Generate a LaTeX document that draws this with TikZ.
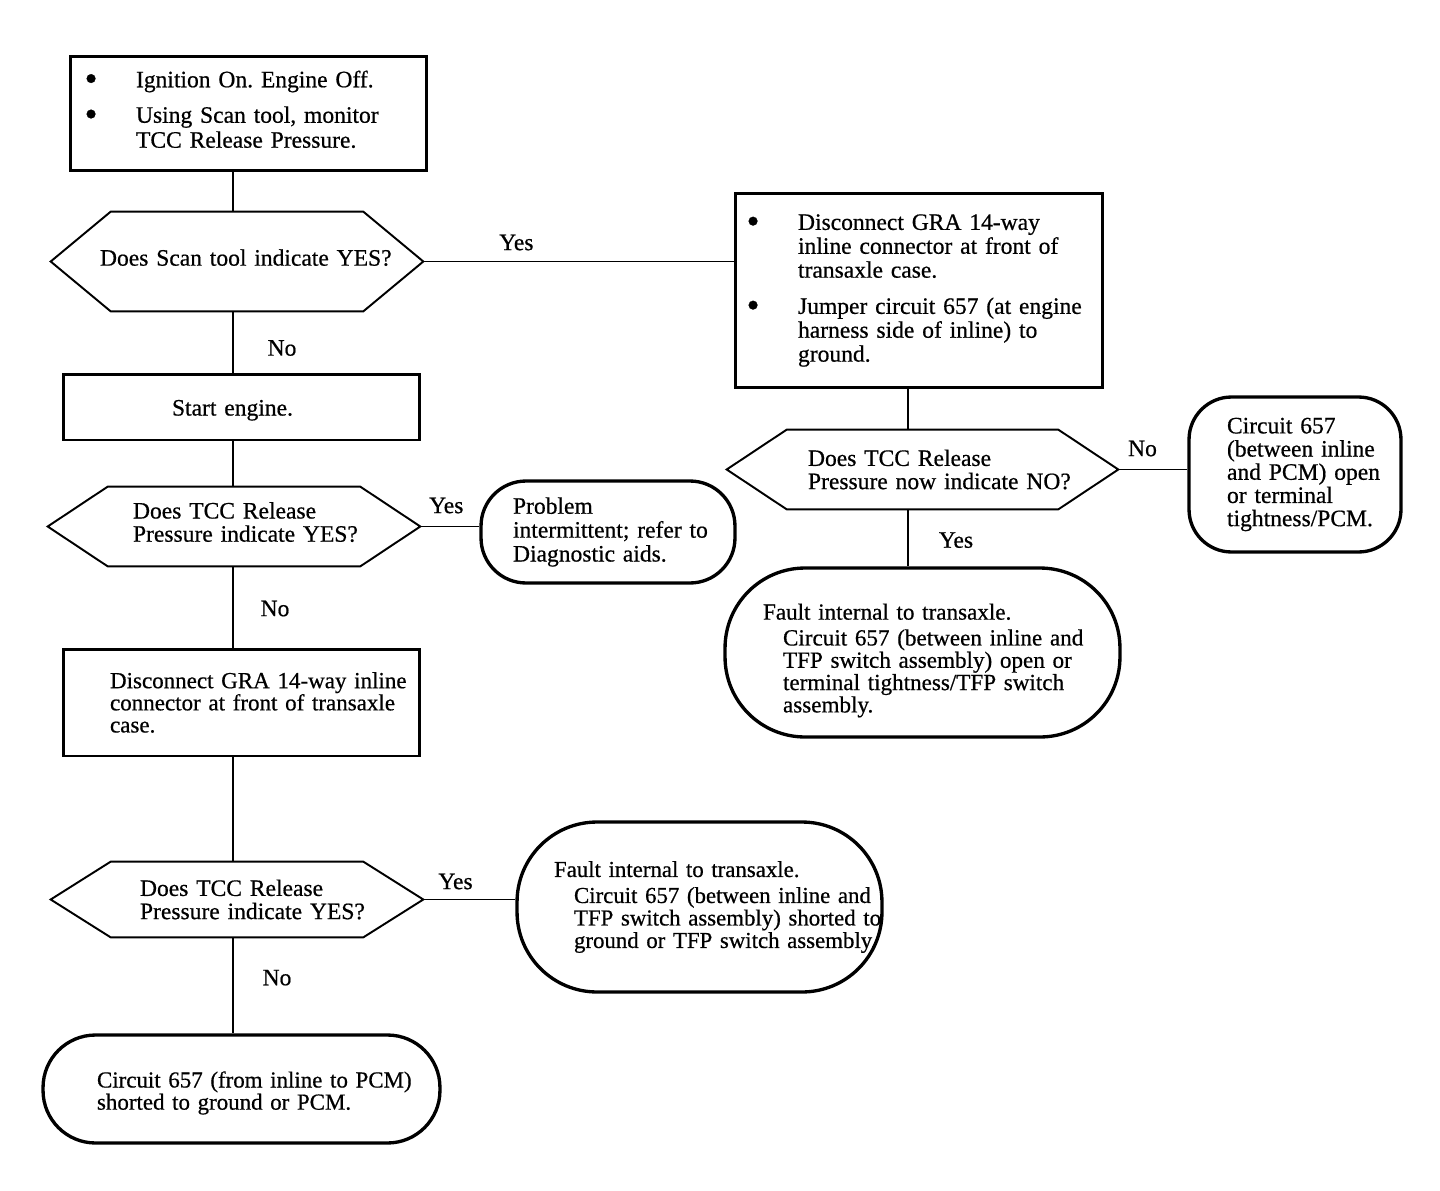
\documentclass[tikz,border=0pt]{standalone}
\usepackage{fontspec}
\setmainfont{Liberation Serif}[FakeBold=0.6]
\newcommand\boxmargin[1]{\frenchspacing\parindent=0pt\leftskip=#1\rightskip=-2cm plus 1fil\relax}
\newcommand\dotitem{\leavevmode\llap{\raisebox{-2pt}{\fontsize{21}{21}\selectfont\textbullet}\hspace{0.77cm}}}
\newcommand\subline{\leavevmode\hspace*{0.4cm}}
\newcommand\toppad[1]{\rule{0pt}{#1}}
\newcommand\botpad[1]{\rule[-#1]{0pt}{#1}}
\tikzset{
  every node/.style={font=\fontsize{13.4}{13.2}\selectfont},
  base/.style={inner sep=0pt, align=left},
  action/.style={base, draw, line width=1.7pt},
  ask/.style={base},
  hexline/.style={line width=1.1pt, line join=miter},
  stop/.style={base, draw, line width=1.9pt},
  link/.style={line width=1pt},
  lab/.style={inner sep=0pt},
}
\begin{document}
\begin{tikzpicture}[x=0.02cm, y=-0.02cm]
\path[fill=white] (0,0) rectangle (1440,1190);
\coordinate (lcol) at (233,0);
\coordinate (rcol) at (908,0);

% left column
\node[action, text width=7.14cm, minimum height=2.30cm, font=\fontsize{13.4}{14.2}\selectfont] (start) at (248.5,113.5)
  {\boxmargin{1.32cm}\dotitem Ignition On. Engine Off.\\[6pt]\dotitem Using Scan tool, monitor\\TCC Release Pressure.\botpad{4.9pt}\par};
\node[ask, text width=7.44cm, minimum height=1.98cm] (q1) at (237,261.5)
  {\boxmargin{0.98cm}Does Scan tool indicate YES?\botpad{4.6pt}\par};
\node[action, text width=7.14cm, minimum height=1.32cm] (engine) at (241.5,407)
  {\boxmargin{2.18cm}\toppad{12.6pt}Start engine.\par};
\node[ask, text width=7.44cm, minimum height=1.58cm] (q2) at (234,526.5)
  {\boxmargin{1.70cm}Does TCC Release\\Pressure indicate YES?\botpad{5.2pt}\par};
\node[stop, text width=5.08cm, minimum height=2.04cm, rounded corners=0.9cm, font=\fontsize{13.4}{13.6}\selectfont] (intermit) at (608,532)
  {\boxmargin{0.64cm}Problem\\intermittent; refer to\\Diagnostic aids.\par};
\node[action, text width=7.14cm, minimum height=2.14cm, font=\fontsize{13.1}{12.6}\selectfont] (unplug) at (241.5,702.5)
  {\boxmargin{0.94cm}Disconnect GRA 14-way inline\\connector at front of transaxle\\case.\par};
\node[ask, text width=7.44cm, minimum height=1.50cm] (q3) at (237,899.5)
  {\boxmargin{1.78cm}Does TCC Release\\Pressure indicate YES?\par};
\node[stop, text width=7.30cm, minimum height=3.40cm, rounded corners=1.6cm, font=\fontsize{13.0}{12.8}\selectfont] (shortint) at (699.5,907)
  {\boxmargin{0.74cm}Fault internal to transaxle.\\[2pt]\subline Circuit 657 (between inline and\\\subline TFP switch assembly) shorted to\\\subline ground or TFP switch assembly.\par};
\node[stop, text width=7.94cm, minimum height=2.16cm, rounded corners=1.05cm, font=\fontsize{13.05}{12.6}\selectfont] (shortpcm) at (241.5,1089)
  {\boxmargin{1.08cm}\toppad{13.7pt}Circuit 657 (from inline to PCM)\\shorted to ground or PCM.\par};

% right column
\node[action, text width=7.36cm, minimum height=3.90cm, font=\fontsize{13.4}{13.6}\selectfont] (jumper) at (919,290.5)
  {\boxmargin{1.26cm}\dotitem Disconnect GRA 14-way\\inline connector at front of\\transaxle case.\\[7pt]\dotitem Jumper circuit 657 (at engine\\harness side of inline) to\\ground.\par};
\node[ask, text width=7.82cm, minimum height=1.58cm] (q4) at (922.5,469.5)
  {\boxmargin{1.62cm}Does TCC Release\\Pressure now indicate NO?\par};
\node[stop, text width=4.24cm, minimum height=3.10cm, rounded corners=0.85cm] (openpcm) at (1295,474.5)
  {\boxmargin{0.76cm}Circuit 657\\(between inline\\and PCM) open\\or terminal\\tightness/PCM.\par};
\node[stop, text width=7.90cm, minimum height=3.38cm, rounded corners=1.6cm, font=\fontsize{13.15}{12.7}\selectfont] (openint) at (922.5,652.5)
  {\boxmargin{0.76cm}\toppad{18.2pt}Fault internal to transaxle.\\[2pt]\subline Circuit 657 (between inline and\\\subline TFP switch assembly) open or\\\subline terminal tightness/TFP switch\\\subline assembly.\par};

% decision outlines
\foreach \q in {q1,q2,q3,q4}
  \draw[hexline] (\q.west) -- ([xshift=1.2cm]\q.north west) -- ([xshift=-1.2cm]\q.north east) -- (\q.east)
    -- ([xshift=-1.2cm]\q.south east) -- ([xshift=1.2cm]\q.south west) -- cycle;

% connectors
\draw[link] (start.south -| lcol) -- (q1.north -| lcol);
\draw[link] (q1.south -| lcol) -- node[lab, pos=0.6, xshift=0.98cm] (n1) {No} (engine.north -| lcol);
\draw[link] (engine.south -| lcol) -- (q2.north -| lcol);
\draw[link] (q2.east) -- node[lab, pos=0.44, yshift=0.42cm] (y2) {Yes} (q2.east -| intermit.west);
\draw[link] (q2.south -| lcol) -- node[lab, pos=0.52, xshift=0.84cm] (n2) {No} (unplug.north -| lcol);
\draw[link] (unplug.south -| lcol) -- (q3.north -| lcol);
\draw[link] (q3.east) -- node[lab, pos=0.35, yshift=0.36cm] (y3) {Yes} (q3.east -| shortint.west);
\draw[link] (q3.south -| lcol) -- node[lab, pos=0.42, xshift=0.88cm] (n3) {No} (shortpcm.north -| lcol);
\draw[link] (q1.east) -- node[lab, pos=0.3, yshift=0.38cm] (y1) {Yes} (q1.east -| jumper.west);
\draw[link] (jumper.south -| rcol) -- (q4.north -| rcol);
\draw[link] (q4.east) -- node[lab, pos=0.35, yshift=0.42cm] (n4) {No} (q4.east -| openpcm.west);
\draw[link] (q4.south -| rcol) -- node[lab, pos=0.54, xshift=0.96cm] (y4) {Yes} (openint.north -| rcol);
\end{tikzpicture}
\end{document}
